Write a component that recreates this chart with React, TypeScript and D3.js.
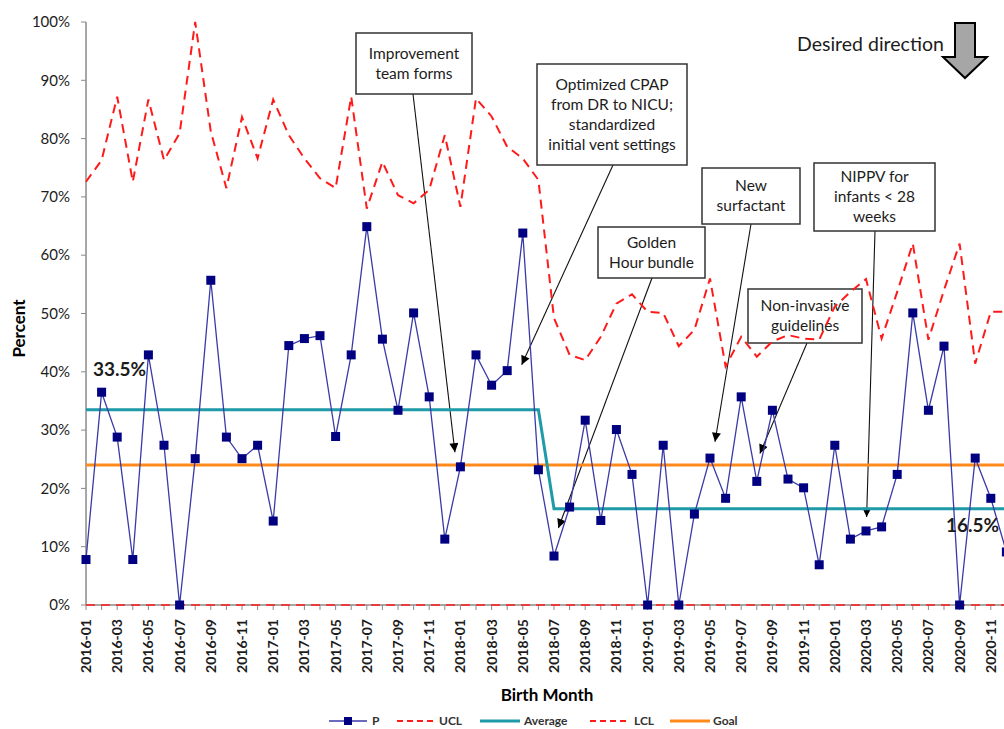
import React, { useEffect, useRef } from "react";
import * as d3 from "d3";

// ---- data ----
const years = ["2016", "2017", "2018", "2019", "2020"];
const monthNums = ["01", "02", "03", "04", "05", "06", "07", "08", "09", "10", "11", "12"];
const months = years.flatMap((y) => monthNums.map((m) => `${y}-${m}`));

// monthly proportion (%)
const pValues = [
  7.8, 36.5, 28.8, 7.8, 42.9, 27.4, 0, 25.1, 55.7, 28.8, 25.1, 27.4,
  14.4, 44.5, 45.7, 46.2, 28.9, 42.9, 64.9, 45.6, 33.4, 50.1, 35.7, 11.3,
  23.7, 42.9, 37.7, 40.2, 63.8, 23.2, 8.4, 16.8, 31.7, 14.5, 30.1, 22.4,
  0, 27.4, 0, 15.6, 25.2, 18.3, 35.7, 21.2, 33.4, 21.6, 20.1, 6.9,
  27.4, 11.3, 12.7, 13.4, 22.4, 50.1, 33.4, 44.4, 0, 25.2, 18.3, 9.1,
];

const uclValues = [
  72.6, 76.3, 87.2, 72.6, 86.7, 76.3, 80.9, 100, 81.2, 71.5, 83.7, 76.6,
  86.7, 80.6, 76.6, 73.2, 71.5, 87.2, 68.0, 76.0, 70.3, 68.9, 71.2, 80.6,
  68.3, 86.9, 83.8, 78.6, 76.6, 72.9, 49.2, 42.9, 42.0, 46.0, 51.7, 53.3,
  50.3, 50.1, 44.4, 47.2, 56.0, 40.9, 46.0, 42.6, 45.2, 46.3, 45.7, 45.5,
  51.2, 53.7, 55.9, 45.7, 53.7, 62.0, 45.5, 54.0, 62.0, 41.4, 50.3, 50.3,
];

const lclLevel = 0;
const goalLevel = 24;
const averagePhases = [
  { start: "2016-01", end: "2018-06", value: 33.5 },
  { start: "2018-07", end: "2020-12", value: 16.5 },
];
const yTicks = [0, 10, 20, 30, 40, 50, 60, 70, 80, 90, 100];
const legendItems = ["P", "UCL", "Average", "LCL", "Goal"];

// annotation text + where the arrow points (month index, percent)
const annotations = [
  { lines: ["Improvement", "team forms"], at: 23.65, value: 26.2 },
  { lines: ["Optimized CPAP", "from DR to NICU;", "standardized", "initial vent settings"], at: 27.93, value: 41.2 },
  { lines: ["Golden", "Hour bundle"], at: 30.28, value: 13.2 },
  { lines: ["New", "surfactant"], at: 40.32, value: 28.0 },
  { lines: ["NIPPV for", "infants < 28", "weeks"], at: 50.04, value: 15.1 },
  { lines: ["Non-invasive", "guidelines"], at: 43.2, value: 26.0 },
];

// ---- layout ----
const W = 1004;
const H = 729;
const plot = { left: 86, top: 22, bottom: 605, step: 15.6 };
const boxes = [
  { x: 356, y: 33, w: 116, h: 61, stemX: 413 },
  { x: 537, y: 64, w: 150, h: 101, stemX: 613 },
  { x: 598, y: 227, w: 107, h: 51, stemX: 652 },
  { x: 702, y: 168, w: 98, h: 56, stemX: 751 },
  { x: 814, y: 163, w: 121, h: 68, stemX: 875 },
  { x: 748, y: 289, w: 114, h: 54, stemX: 807 },
];
const FONT = "Lato, 'DejaVu Sans', sans-serif";

const COL = {
  p: "#000080",
  pLine: "#3a3aa8",
  red: "#ff1a1a",
  avg: "#1f9aa8",
  goal: "#ff8a1c",
  axis: "#8a8a8a",
  text: "#1c1c1c",
};

export default function App() {
  const ref = useRef<SVGSVGElement>(null);

  useEffect(() => {
    const svg = d3.select(ref.current);
    svg.selectAll("*").remove();

    const xi = d3
      .scaleLinear()
      .domain([0, months.length - 1])
      .range([plot.left, plot.left + plot.step * (months.length - 1)]);
    const x = (m: string) => xi(months.indexOf(m));
    const y = d3.scaleLinear().domain([0, 100]).range([plot.bottom, plot.top]);

    svg
      .append("defs")
      .append("marker")
      .attr("id", "ah")
      .attr("viewBox", "0 0 10 10")
      .attr("refX", 10)
      .attr("refY", 5)
      .attr("markerWidth", 11)
      .attr("markerHeight", 9)
      .attr("markerUnits", "userSpaceOnUse")
      .attr("orient", "auto")
      .append("path")
      .attr("d", "M0,0L10,5L0,10Z")
      .attr("fill", "#000");

    // y axis
    const gy = svg.append("g");
    gy.append("line")
      .attr("x1", plot.left).attr("x2", plot.left)
      .attr("y1", y(100)).attr("y2", y(0))
      .attr("stroke", COL.axis).attr("stroke-width", 1.5);
    gy.selectAll(".yt")
      .data(yTicks)
      .join("line")
      .attr("x1", plot.left - 5).attr("x2", plot.left)
      .attr("y1", (d) => y(d)).attr("y2", (d) => y(d))
      .attr("stroke", COL.axis);
    gy.selectAll("text")
      .data(yTicks)
      .join("text")
      .attr("x", 70)
      .attr("y", (d) => y(d))
      .attr("dy", "0.35em")
      .attr("text-anchor", "end")
      .attr("font-family", FONT)
      .attr("font-size", 15)
      .attr("fill", COL.text)
      .text((d) => `${d}%`);

    svg.append("text")
      .attr("transform", `translate(25,${(plot.top + plot.bottom) / 2 + 15}) rotate(-90)`)
      .attr("text-anchor", "middle")
      .attr("font-family", FONT)
      .attr("font-weight", "bold")
      .attr("font-size", 17)
      .attr("fill", "#000")
      .text("Percent");

    // x axis
    const gx = svg.append("g");
    gx.append("line")
      .attr("x1", plot.left).attr("x2", xi(months.length - 1) + 10)
      .attr("y1", plot.bottom).attr("y2", plot.bottom)
      .attr("stroke", COL.axis).attr("stroke-width", 1.5);
    gx.selectAll(".xt")
      .data(months)
      .join("line")
      .attr("x1", (d) => x(d)).attr("x2", (d) => x(d))
      .attr("y1", plot.bottom).attr("y2", plot.bottom + 5)
      .attr("stroke", COL.axis);
    gx.selectAll("text")
      .data(months.filter((_, i) => i % 2 === 0))
      .join("text")
      .attr("transform", (d) => `translate(${x(d) + 5},${plot.bottom + 14}) rotate(-90)`)
      .attr("text-anchor", "end")
      .attr("font-family", FONT)
      .attr("font-weight", "bold")
      .attr("font-size", 14)
      .attr("fill", COL.text)
      .text((d) => d);

    svg.append("text")
      .attr("x", 547).attr("y", 701)
      .attr("text-anchor", "middle")
      .attr("font-family", FONT)
      .attr("font-weight", "bold")
      .attr("font-size", 17)
      .attr("fill", "#000")
      .text("Birth Month");

    // annotations (under the series)
    const ga = svg.append("g");
    annotations.forEach((a, i) => {
      const b = boxes[i];
      ga.append("line")
        .attr("x1", b.stemX).attr("y1", b.y + b.h)
        .attr("x2", xi(a.at)).attr("y2", y(a.value))
        .attr("stroke", "#111").attr("stroke-width", 1.1)
        .attr("marker-end", "url(#ah)");
      ga.append("rect")
        .attr("x", b.x).attr("y", b.y).attr("width", b.w).attr("height", b.h)
        .attr("fill", "#fff").attr("stroke", "#333").attr("stroke-width", 1.5);
      const lh = 20;
      const y0 = b.y + b.h / 2 - ((a.lines.length - 1) * lh) / 2;
      a.lines.forEach((t, j) => {
        ga.append("text")
          .attr("x", b.x + b.w / 2)
          .attr("y", y0 + j * lh)
          .attr("dy", "0.35em")
          .attr("text-anchor", "middle")
          .attr("font-family", FONT)
          .attr("font-size", 15.5)
          .attr("fill", COL.text)
          .text(t);
      });
    });

    // goal
    svg.append("line")
      .attr("x1", xi(0)).attr("x2", xi(months.length - 1))
      .attr("y1", y(goalLevel)).attr("y2", y(goalLevel))
      .attr("stroke", COL.goal).attr("stroke-width", 3);

    // average (step between phases)
    const avgPts: [number, number][] = averagePhases.flatMap((p) => [
      [x(p.start), y(p.value)] as [number, number],
      [x(p.end), y(p.value)] as [number, number],
    ]);
    svg.append("path")
      .attr("d", d3.line()(avgPts))
      .attr("fill", "none")
      .attr("stroke", COL.avg)
      .attr("stroke-width", 3);

    // UCL / LCL
    const line = d3.line<number>().x((_, i) => xi(i)).y((d) => y(d));
    svg.append("path")
      .attr("d", line(uclValues))
      .attr("fill", "none")
      .attr("stroke", COL.red)
      .attr("stroke-width", 2)
      .attr("stroke-dasharray", "9,6");
    svg.append("line")
      .attr("x1", xi(0)).attr("x2", xi(months.length - 1))
      .attr("y1", y(lclLevel)).attr("y2", y(lclLevel))
      .attr("stroke", COL.red)
      .attr("stroke-width", 1.6)
      .attr("stroke-dasharray", "9,6");

    // P
    svg.append("path")
      .attr("d", line(pValues))
      .attr("fill", "none")
      .attr("stroke", COL.pLine)
      .attr("stroke-width", 1.3);
    svg.append("g")
      .selectAll("rect")
      .data(pValues)
      .join("rect")
      .attr("x", (_, i) => xi(i) - 4.5)
      .attr("y", (d) => y(d) - 4.5)
      .attr("width", 9)
      .attr("height", 9)
      .attr("fill", COL.p);

    // phase labels
    svg.append("text")
      .attr("x", 93).attr("y", 376)
      .attr("font-family", FONT).attr("font-weight", "bold").attr("font-size", 19)
      .attr("fill", COL.text)
      .text(`${averagePhases[0].value}%`);
    svg.append("text")
      .attr("x", 946).attr("y", 532)
      .attr("font-family", FONT).attr("font-weight", "bold").attr("font-size", 19)
      .attr("fill", COL.text)
      .text(`${averagePhases[1].value}%`);

    // desired direction
    svg.append("text")
      .attr("x", 797).attr("y", 51)
      .attr("font-family", FONT).attr("font-size", 19.5)
      .attr("fill", COL.text)
      .text("Desired direction");
    svg.append("path")
      .attr("d", "M955,23L975,23L975,57L987,57L965,78L943,57L955,57Z")
      .attr("fill", "#a6a6a6")
      .attr("stroke", "#000")
      .attr("stroke-width", 2)
      .attr("stroke-linejoin", "miter");

    // legend
    const lg = svg.append("g").attr("font-family", FONT).attr("font-size", 12).attr("font-weight", "bold");
    const ly = 721;
    const legendLayout = [
      { x0: 329, x1: 367, tx: 372 },
      { x0: 397, x1: 435, tx: 439 },
      { x0: 480, x1: 520, tx: 524 },
      { x0: 590, x1: 630, tx: 634 },
      { x0: 670, x1: 710, tx: 713 },
    ];
    const legendStyle = [
      { c: COL.pLine, w: 1.3, dash: null },
      { c: COL.red, w: 1.8, dash: "6,4" },
      { c: COL.avg, w: 3, dash: null },
      { c: COL.red, w: 1.8, dash: "6,4" },
      { c: COL.goal, w: 3, dash: null },
    ];
    legendItems.forEach((name, i) => {
      const L = legendLayout[i];
      const s = legendStyle[i];
      lg.append("line")
        .attr("x1", L.x0).attr("x2", L.x1).attr("y1", ly).attr("y2", ly)
        .attr("stroke", s.c).attr("stroke-width", s.w)
        .attr("stroke-dasharray", s.dash);
      if (name === "P") {
        lg.append("rect")
          .attr("x", (L.x0 + L.x1) / 2 - 4).attr("y", ly - 4)
          .attr("width", 8).attr("height", 8).attr("fill", COL.p);
      }
      lg.append("text")
        .attr("x", L.tx).attr("y", ly).attr("dy", "0.35em")
        .attr("fill", "#333")
        .text(name);
    });
  }, []);

  return (
    <svg
      ref={ref}
      width={W}
      height={H}
      style={{ position: "absolute", left: 0, top: 0, background: "#fff", display: "block" }}
    />
  );
}
